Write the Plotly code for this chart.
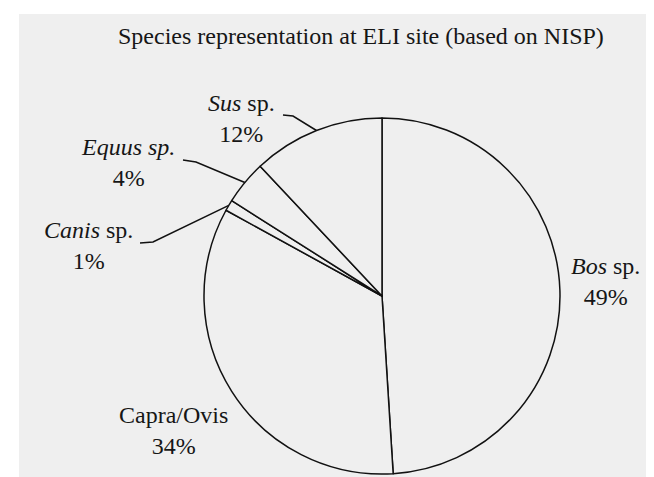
import math
import plotly.graph_objects as go

W, H = 654, 477

# ---- data ----
species = ["Bos sp.", "Capra/Ovis", "Canis sp.", "Equus sp.", "Sus sp."]
label_html = ["<i>Bos</i> sp.", "Capra/Ovis", "<i>Canis</i> sp.", "<i>Equus sp.</i>", "<i>Sus</i> sp."]
percent = [49, 34, 1, 4, 12]
title_text = "Species representation at ELI site (based on NISP)"

# ---- layout (pixels) ----
CX, CY, R = 374, 288, 178
BG = "#efefef"
FONT = "Liberation Serif"
FS = 24

# label block centres (pixels)
label_pos = {
    "Bos sp.": (597, 273),
    "Capra/Ovis": (165, 422),
    "Canis sp.": (80, 237),
    "Equus sp.": (120, 154),
    "Sus sp.": (233, 110),
}
# leader line start and elbow points (pixels); end computed from slice angle
leaders = {
    "Sus sp.": [(275, 107), (285, 108)],
    "Equus sp.": [(175, 152), (188, 154)],
    "Canis sp.": [(132, 235), (145, 234)],
}


def px(x):
    return x / W


def py(y):
    return 1 - y / H


fig = go.Figure(
    go.Pie(
        labels=species,
        values=percent,
        sort=False,
        direction="clockwise",
        rotation=0,
        textinfo="none",
        hoverinfo="skip",
        showlegend=False,
        marker=dict(colors=[BG] * len(species), line=dict(color="#111111", width=1.5)),
        domain=dict(x=[px(CX - R), px(CX + R)], y=[py(CY + R), py(CY - R)]),
    )
)

total = sum(percent)
cum = 0
mid_angle = {}
for s, v in zip(species, percent):
    mid_angle[s] = (cum + v / 2) / total * 2 * math.pi
    cum += v

shapes = [
    dict(type="rect", xref="paper", yref="paper", x0=0, x1=px(11), y0=0, y1=1,
         fillcolor="white", line=dict(width=0), layer="below"),
    dict(type="rect", xref="paper", yref="paper", x0=0, x1=1, y0=py(6), y1=1,
         fillcolor="white", line=dict(width=0), layer="below"),
]
for s, pts in leaders.items():
    a = mid_angle[s]
    ex, ey = CX + R * math.sin(a), CY - R * math.cos(a)
    allp = pts + [(ex, ey)]
    path = "M " + " L ".join(f"{px(x):.5f},{py(y):.5f}" for x, y in allp)
    shapes.append(dict(type="path", xref="paper", yref="paper", path=path,
                       line=dict(color="#111111", width=1.5)))

annotations = []
for s, lab, v in zip(species, label_html, percent):
    x, y = label_pos[s]
    annotations.append(dict(
        x=px(x), y=py(y), xref="paper", yref="paper", xanchor="center", yanchor="middle",
        text=f"{lab}<br>{v}%", showarrow=False, align="center",
        font=dict(family=FONT, size=FS, color="#161616"),
    ))
annotations.append(dict(
    x=px(353), y=py(28), xref="paper", yref="paper", xanchor="center", yanchor="middle",
    text=title_text, showarrow=False, font=dict(family=FONT, size=FS, color="#161616"),
))

fig.update_layout(
    width=W, height=H, margin=dict(l=0, r=0, t=0, b=0),
    paper_bgcolor=BG, plot_bgcolor=BG,
    shapes=shapes, annotations=annotations,
)

fig.write_html("out.html", config={"displayModeBar": False})
